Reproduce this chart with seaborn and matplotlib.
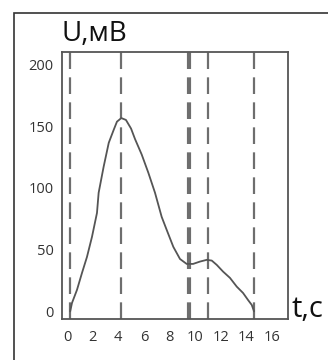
import matplotlib
matplotlib.use("Agg")
import matplotlib.pyplot as plt
from matplotlib.patches import Rectangle
import seaborn as sns
import pandas as pd

# curve
t_vals = [0.25, 0.39, 0.78, 1.17, 1.56, 1.95, 2.34, 2.47, 2.86, 3.26, 3.65, 3.90,
          4.24, 4.60, 5.00, 5.31, 5.83, 6.35, 6.87, 7.39, 7.78, 8.30, 8.82, 9.34, 9.84,
          10.38, 10.91, 11.30, 11.69, 12.18, 12.72, 13.25, 13.74, 14.13, 14.42, 14.6]
u_vals = [0.0, 6.8, 17.4, 31.1, 44.1, 60.3, 79.7, 96.0, 117.1, 136.5, 147.1, 153.6,
          156.5, 155.0, 148.0, 139.5, 127.0, 112.2, 96.0, 76.5, 66.0, 52.2, 42.4, 38.4, 38.4,
          40.3, 41.7, 41.1, 37.6, 32.2, 27.1, 20.0, 14.9, 9.2, 5.2, 0.0]

# vertical dashed markers
mark_t = [0.23, 4.22, 9.52, 11.0, 14.6]
mark_w = [1.6, 1.6, 3.0, 1.6, 1.6]

x_ticks = [0, 2, 4, 6, 8, 10, 12, 14, 16]
y_ticks = [0, 50, 100, 150, 200]

sns.set_style("white")
plt.rcParams['font.family'] = ['Open Sans', 'DejaVu Sans']

fig = plt.figure(figsize=(3.28, 3.6), dpi=100)
ax = fig.add_axes([62/328, 1-319/360, (288-62)/328, (319-52)/360])

df = pd.DataFrame({'t': t_vals, 'U': u_vals})
sns.lineplot(data=df, x='t', y='U', ax=ax, color='#555555', lw=1.3, sort=False)

for t, w in zip(mark_t, mark_w):
    ax.axvline(t, color='#6e6e6e', lw=w, linestyle=(0, (12/w, 6/w)), zorder=1)

ax.set_xlim(-0.39, 17.25)
ax.set_ylim(-6.2, 210)
ax.set_xticks(x_ticks)
ax.set_yticks(y_ticks)
ax.set_xlabel('')
ax.set_ylabel('')
ax.tick_params(axis='both', length=0, labelsize=10.5, labelcolor='#333333')
ax.tick_params(axis='x', pad=8)
ax.tick_params(axis='y', pad=6)
for s in ax.spines.values():
    s.set_color('#555555')
    s.set_linewidth(1.3)
    s.set_visible(True)

fig.text(61/328, 1-41/360, 'U,мВ', fontsize=20, color='#111111', va='baseline', ha='left')
fig.text(292/328, 1-317/360, 't,c', fontsize=21, color='#111111', va='baseline', ha='left')

fig.add_artist(Rectangle((14/328, -0.2), 1.2, 1-13/360+0.2, transform=fig.transFigure,
                         fill=False, edgecolor='#333333', lw=1.2, clip_on=False))

fig.savefig('out.png', dpi=100)
